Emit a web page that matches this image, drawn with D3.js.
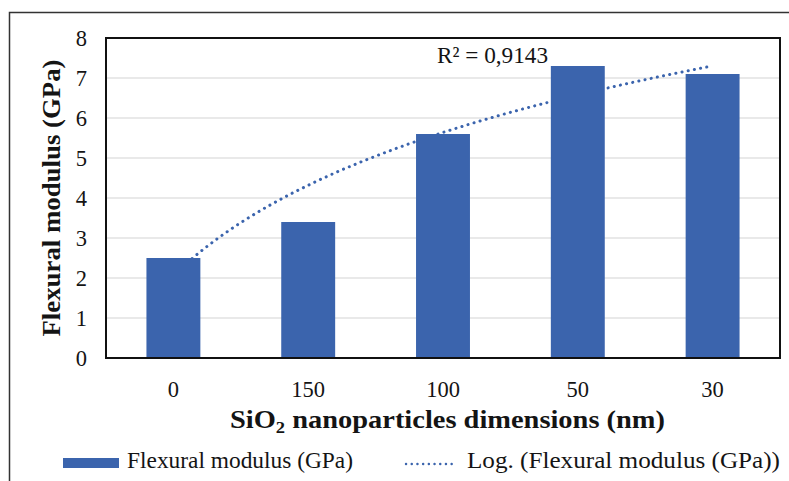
<!DOCTYPE html>
<html><head><meta charset="utf-8">
<script src="https://cdn.jsdelivr.net/npm/d3@7"></script>
<style>
html,body{margin:0;padding:0;background:#fff;}
svg{display:block;}
svg text{font-family:"Liberation Serif","Tinos","DejaVu Serif","Noto Serif",serif !important;}
</style></head>
<body>
<svg id="chart" width="789" height="481"></svg>
<script>
const categories = ["0","150","100","50","30"];
const values = [2.5, 3.4, 5.6, 7.3, 7.1];
const yTicks = [0,1,2,3,4,5,6,7,8];
const r2Label = "R² = 0,9143";
const seriesName = "Flexural modulus (GPa)";
const trendName = "Log. (Flexural modulus (GPa))";

const svg = d3.select("#chart");
const W = 789, H = 481;
const m = {left:106, top:38, right:9, bottom:123};
const pw = W - m.left - m.right, ph = H - m.top - m.bottom;
const blue = "#3b64ad";
const ink = "#141414";

// outer frame (extends beyond canvas right/bottom)
svg.append("rect").attr("x",9.5).attr("y",12.5).attr("width",W+20).attr("height",H+20)
  .attr("fill","none").attr("stroke","#333").attr("stroke-width",1.5);

const x = d3.scaleBand().domain(categories).range([m.left, m.left+pw]).paddingInner(0.6).paddingOuter(0.3);
const y = d3.scaleLinear().domain([0,8]).range([m.top+ph, m.top]);

// gridlines
svg.append("g").selectAll("line").data(yTicks.filter(t=>t>0 && t<8)).join("line")
  .attr("x1",m.left).attr("x2",m.left+pw)
  .attr("y1",d=>y(d)).attr("y2",d=>y(d))
  .attr("stroke","#d4d4d4").attr("stroke-width",1.2);

// log trendline fit: y = a ln(i) + b, i = 1..n
const lx = values.map((v,i)=>Math.log(i+1));
const mx = d3.mean(lx), my = d3.mean(values);
const a = d3.sum(lx.map((l,i)=>(l-mx)*(values[i]-my))) / d3.sum(lx.map(l=>(l-mx)**2));
const b = my - a*mx;
const xc = i => x(categories[0]) + x.bandwidth()/2 + i*x.step();
const pts = d3.range(1, categories.length+0.001, 0.05).map(t=>[xc(t-1), y(a*Math.log(t)+b)]);
svg.append("path").attr("d", d3.line()(pts))
  .attr("fill","none").attr("stroke",blue).attr("stroke-width",3)
  .attr("stroke-linecap","round").attr("stroke-dasharray","0.1 6.2");

// bars
svg.append("g").selectAll("rect").data(values).join("rect")
  .attr("x",(d,i)=>x(categories[i])).attr("width",x.bandwidth())
  .attr("y",d=>y(d)).attr("height",d=>y(0)-y(d))
  .attr("fill",blue);

// plot frame
svg.append("rect").attr("x",m.left).attr("y",m.top).attr("width",pw).attr("height",ph)
  .attr("fill","none").attr("stroke","#111").attr("stroke-width",2);

// y axis labels
const ya = svg.append("g").attr("transform",`translate(${m.left-19},0)`)
  .call(d3.axisLeft(y).tickValues(yTicks).tickSize(0).tickPadding(0).tickFormat(d3.format("d")));
ya.select(".domain").remove();
ya.selectAll("text").attr("font-size",22.5).attr("fill",ink);

// x axis labels
const xa = svg.append("g").attr("transform",`translate(0,${m.top+ph})`)
  .call(d3.axisBottom(x).tickSize(0).tickPadding(0));
xa.select(".domain").remove();
xa.selectAll("text").attr("dy",null).attr("y",39).attr("font-size",22.5).attr("fill",ink);

// axis titles
svg.append("text").attr("transform",`translate(60,${m.top+ph/2}) rotate(-90)`)
  .attr("text-anchor","middle").attr("font-size",25).attr("font-weight","bold").attr("fill",ink)
  .attr("textLength",277).attr("lengthAdjust","spacingAndGlyphs")
  .text("Flexural modulus (GPa)");
const xt = svg.append("text").attr("x",447.5).attr("y",428)
  .attr("text-anchor","middle").attr("font-size",24.5).attr("font-weight","bold").attr("fill",ink)
  .attr("textLength",435).attr("lengthAdjust","spacingAndGlyphs");
xt.append("tspan").text("SiO");
xt.append("tspan").attr("font-size",16).attr("dy",5).text("2");
xt.append("tspan").attr("dy",-5).text(" nanoparticles dimensions (nm)");

// R² label
svg.append("text").attr("x",437).attr("y",63).attr("font-size",23).attr("fill",ink)
  .attr("textLength",111).attr("lengthAdjust","spacingAndGlyphs").text(r2Label);

// legend
svg.append("rect").attr("x",63).attr("y",458).attr("width",56).attr("height",10).attr("fill",blue);
svg.append("text").attr("x",127).attr("y",468).attr("font-size",23).attr("fill",ink)
  .attr("textLength",226).attr("lengthAdjust","spacingAndGlyphs").text(seriesName);
svg.append("line").attr("x1",406).attr("x2",457).attr("y1",464).attr("y2",464)
  .attr("stroke",blue).attr("stroke-width",2.4).attr("stroke-linecap","round").attr("stroke-dasharray","0.1 5.6");
svg.append("text").attr("x",467).attr("y",468).attr("font-size",23).attr("fill",ink)
  .attr("textLength",313).attr("lengthAdjust","spacingAndGlyphs").text(trendName);
</script>
</body></html>
